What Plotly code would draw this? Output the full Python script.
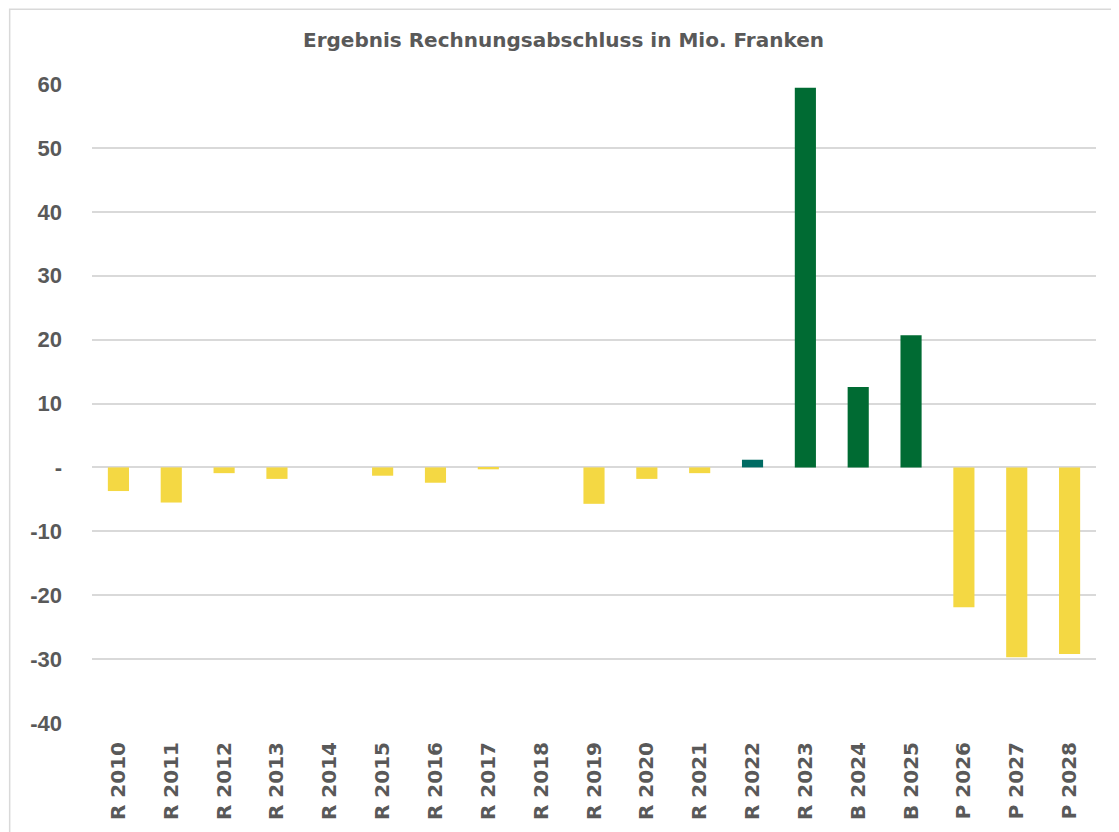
import plotly.graph_objects as go

categories = ["R 2010", "R 2011", "R 2012", "R 2013", "R 2014", "R 2015", "R 2016",
              "R 2017", "R 2018", "R 2019", "R 2020", "R 2021", "R 2022", "R 2023",
              "B 2024", "B 2025", "P 2026", "P 2027", "P 2028"]
values = [-3.7, -5.5, -0.9, -1.8, 0.0, -1.3, -2.4, -0.3, 0.0, -5.7, -1.8, -0.9,
          1.2, 59.4, 12.6, 20.7, -21.9, -29.7, -29.2]

y_ticks = [60, 50, 40, 30, 20, 10, 0, -10, -20, -30, -40]
y_ticktext = ["60", "50", "40", "30", "20", "10", "-", "-10", "-20", "-30", "-40"]

YELLOW = "#F4D843"
GREEN = "#006B33"
TEAL = "#006B63"
GREY_TEXT = "#595959"
GRID = "#D9D9D9"


def bar_color(cat, v):
    if v < 0:
        return YELLOW
    if cat == "R 2022":
        return TEAL
    return GREEN


colors = [bar_color(c, v) for c, v in zip(categories, values)]

fig = go.Figure(go.Bar(
    x=categories,
    y=values,
    marker=dict(color=colors, line=dict(width=0)),
    hoverinfo="x+y",
))

fig.update_layout(
    width=1111,
    height=824,
    paper_bgcolor="white",
    plot_bgcolor="white",
    bargap=0.6,
    showlegend=False,
    margin=dict(l=84, r=23, t=76, b=107),
    title=dict(
        text="<b>Ergebnis Rechnungsabschluss in Mio. Franken</b>",
        x=0.5, xanchor="center",
        y=0.961, yanchor="middle",
        font=dict(family="DejaVu Sans", size=20, color=GREY_TEXT),
    ),
    font=dict(family="Liberation Sans, Arial", color=GREY_TEXT),
    # light outer frame of the chart area
    shapes=[dict(
        type="rect", xref="paper", yref="paper",
        x0=-0.082, x1=1.3, y0=-0.4, y1=1.117,
        line=dict(color=GRID, width=1.5),
        fillcolor="rgba(0,0,0,0)", layer="below",
    )],
)

fig.update_yaxes(
    range=[-40, 60],
    tickvals=y_ticks,
    ticktext=["<b>%s</b>" % t for t in y_ticktext],
    tickfont=dict(size=22, color=GREY_TEXT, family="Liberation Sans, Arial"),
    showgrid=True,
    gridcolor=GRID,
    gridwidth=1.5,
    zeroline=True,
    zerolinecolor=GRID,
    zerolinewidth=1.5,
    ticks="",
    ticklabelstandoff=29,
    showline=False,
)

fig.update_xaxes(
    tickvals=categories,
    ticktext=["<b>%s</b>" % c for c in categories],
    tickangle=-90,
    tickfont=dict(size=20, color=GREY_TEXT, family="DejaVu Sans"),
    showgrid=False,
    showline=False,
    ticks="",
    ticklabelstandoff=14,
)

fig.write_html("out.html")
